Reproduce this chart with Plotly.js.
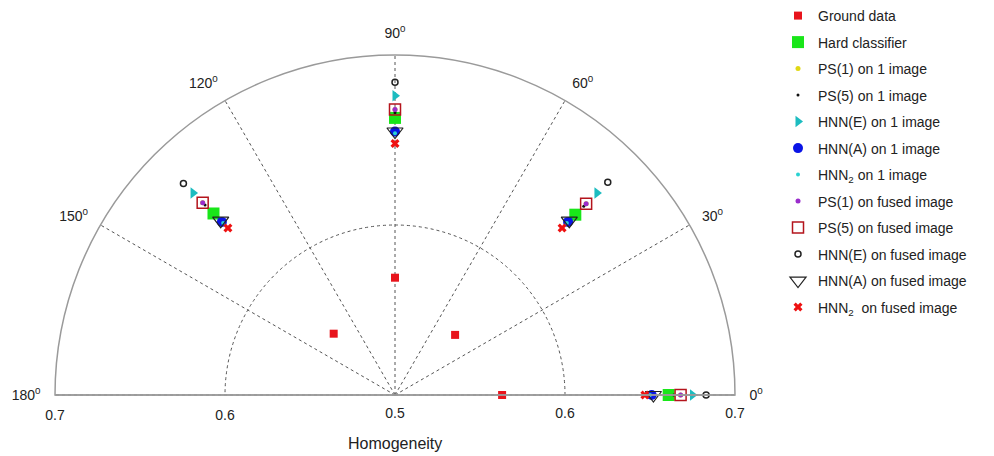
<!DOCTYPE html>
<html><head><meta charset="utf-8">
<script src="https://cdn.plot.ly/plotly-3.0.1.min.js"></script>
<style>html,body{margin:0;padding:0;background:#fff}</style>
</head><body><div id="chart" style="width:994px;height:456px"></div>
<script>
// Angular positions of the four point groups (degrees)
const angles = [0, 45, 90, 135];
// Homogeneity values per series at each angle
const groundData   = [0.563, 0.550, 0.569, 0.551];
const hardClass    = [0.661, 0.650, 0.663, 0.651];
const ps1One       = [0.668, 0.659, 0.668, 0.660];
const ps5One       = [0.664, 0.657, 0.666, 0.658];
const hnnEOne      = [0.675, 0.668, 0.676, 0.668];
const hnnAOne      = [0.651, 0.644, 0.655, 0.644];
const hnn2One      = [0.650, 0.643, 0.654, 0.643];
const ps1Fused     = [0.668, 0.659, 0.668, 0.660];
const ps5Fused     = [0.668, 0.659, 0.668, 0.660];
const hnnEFused    = [0.683, 0.677, 0.684, 0.676];
const hnnAFused    = [0.652, 0.645, 0.655, 0.645];
const hnn2Fused    = [0.647, 0.639, 0.648, 0.639];

const seriesNames = ['Ground data','Hard classifier','PS(1) on 1 image','PS(5) on 1 image',
  'HNN(E) on 1 image','HNN(A) on 1 image','HNN<sub>2</sub> on 1 image','PS(1) on fused image',
  'PS(5) on fused image','HNN(E) on fused image','HNN(A) on fused image','HNN<sub>2</sub>  on fused image'];
const seriesValues = [groundData, hardClass, ps1One, ps5One, hnnEOne, hnnAOne, hnn2One,
  ps1Fused, ps5Fused, hnnEFused, hnnAFused, hnn2Fused];

const angleTicks = [0, 30, 60, 90, 120, 150, 180];
const angleTickText = angleTicks.map(a => a + '<sup>0</sup>');
const radialTicks = [0.5, 0.6, 0.7];
const radialTickText = ['0.5', '0.6', '0.7'];
const radialTicksLeft = [0.6, 0.7];
const radialTickTextLeft = ['0.6', '0.7'];

const markerStyles = [
  {symbol:'square', size:8, color:'#e8141c'},
  {symbol:'square', size:12, color:'#19e619'},
  {symbol:'circle', size:5, color:'#e0d814'},
  {symbol:'circle', size:3, color:'#111111'},
  {symbol:'triangle-right', size:10, color:'#1cbcc0'},
  {symbol:'circle', size:10, color:'#0a14e6'},
  {symbol:'circle', size:4, color:'#2ad2d2'},
  {symbol:'circle', size:5, color:'#9a2ccc'},
  {symbol:'square-open', size:11, color:'#b4141c', line:{width:1.5, color:'#b4141c'}},
  {symbol:'circle-open', size:6, color:'#222222', line:{width:1.5, color:'#222222'}},
  {symbol:'triangle-down-open', size:14, color:'#222222', line:{width:1.2, color:'#222222'}},
  {symbol:'x', size:8, color:'#ee1111', line:{width:0}}
];

const traces = seriesNames.map((name, i) => ({
  type: 'scatterpolar', mode: 'markers', subplot: 'polar',
  r: seriesValues[i], theta: angles, name: name,
  legendgroup: 'g' + i, cliponaxis: false,
  marker: markerStyles[i]
}));
traces.push({type:'scatterpolar', mode:'markers', subplot:'polar2', r:[], theta:[], showlegend:false, hoverinfo:'skip'});

const dom = {x:[55/994, 735/994], y:[1-395/456, 1-55/456]};
const gridCol = '#555555';
const lineCol = '#9a9a9a';

const layout = {
  width: 994, height: 456,
  margin: {l:0, r:0, t:0, b:0},
  paper_bgcolor: '#fff',
  font: {family: 'Liberation Sans, Arial, sans-serif', size: 14, color: '#222'},
  showlegend: true,
  legend: {x: 778/994, y: 1, xanchor:'left', yanchor:'top', traceorder:'grouped', tracegroupgap: 5.3,
           font:{size:14, color:'#222'}, bgcolor:'rgba(0,0,0,0)'},
  polar: {
    domain: dom, sector: [0, 180], bgcolor: 'rgba(0,0,0,0)',
    radialaxis: {range:[0.5, 0.7], tickvals: radialTicks, ticktext: radialTickText, angle: 0, side:'clockwise',
      showline: true, linecolor: lineCol, linewidth: 1.5, showgrid: true, gridcolor: gridCol, griddash:'dot', gridwidth: 1,
      ticks: 'outside', ticklen: 5, tickcolor: 'rgba(0,0,0,0)', tickfont:{size:14, color:'#222'}},
    angularaxis: {tickvals: angleTicks, ticktext: angleTickText, direction:'counterclockwise', rotation: 0,
      showline: true, linecolor: lineCol, linewidth: 1.5, showgrid: true, gridcolor: gridCol, griddash:'dot', gridwidth: 1,
      ticks: 'outside', ticklen: 11, tickcolor: 'rgba(0,0,0,0)', tickfont:{size:14, color:'#222'}}
  },
  polar2: {
    domain: dom, sector: [0, 180], bgcolor: 'rgba(0,0,0,0)',
    radialaxis: {range:[0.5, 0.7], tickvals: radialTicksLeft, ticktext: radialTickTextLeft, angle: 180, side:'counterclockwise',
      tickangle: 180,
      showline: true, linecolor: lineCol, linewidth: 1.5, showgrid: false,
      ticks: 'outside', ticklen: 5, tickcolor: 'rgba(0,0,0,0)', tickfont:{size:14, color:'#222'}},
    angularaxis: {visible: false, showgrid: false, showline: false, showticklabels: false, ticks: ''}
  },
  annotations: [{text:'Homogeneity', xref:'paper', yref:'paper', x: 395/994, y: 1-443/456, yanchor:'middle',
    showarrow:false, font:{size:16, color:'#222'}}]
};

Plotly.newPlot('chart', traces, layout, {displayModeBar:false, staticPlot:true});
</script></body></html>
